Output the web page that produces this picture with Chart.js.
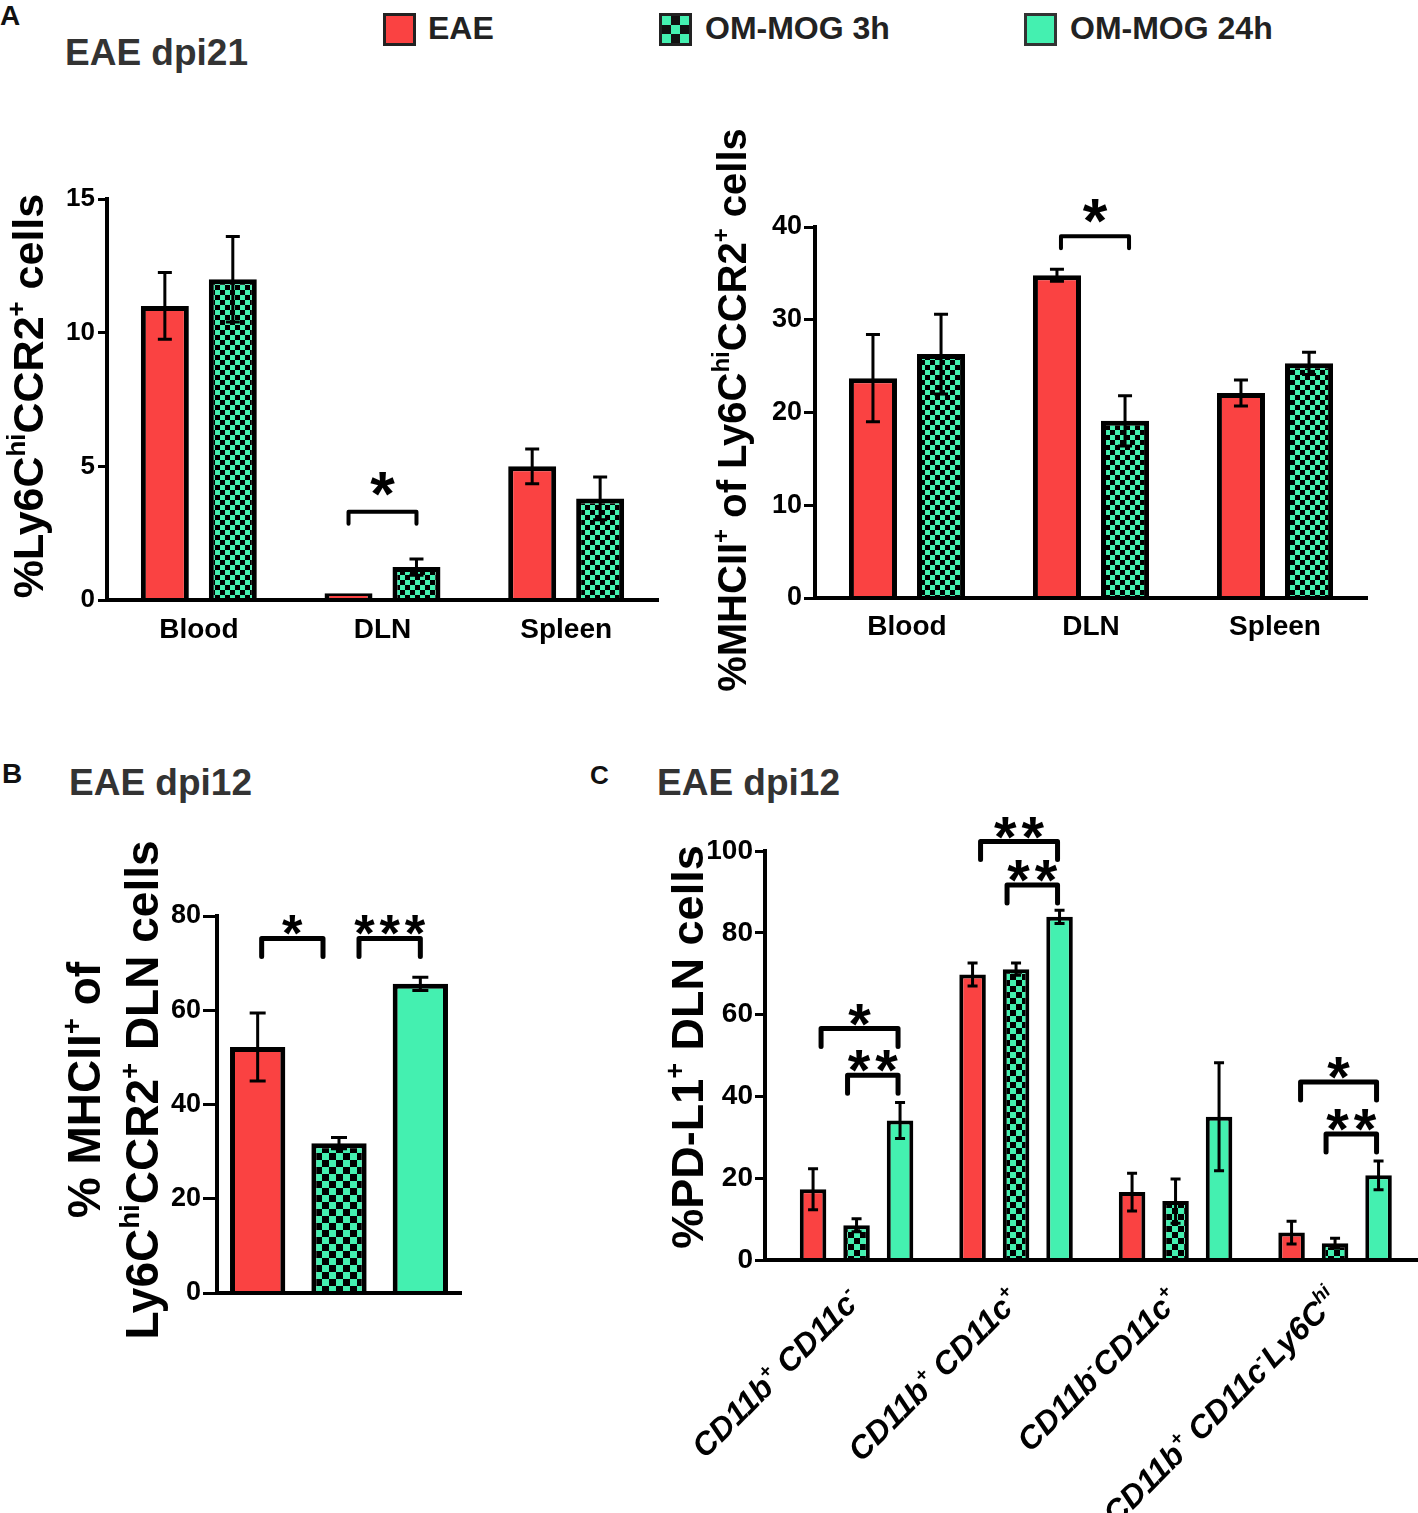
<!DOCTYPE html>
<html><head><meta charset="utf-8">
<script src="https://cdn.jsdelivr.net/npm/chart.js@4.4.1/dist/chart.umd.min.js"></script>
<style>
html,body{margin:0;padding:0;background:#fff;}
#fig{position:relative;width:1418px;height:1513px;overflow:hidden;font-family:"Liberation Sans",Arial,sans-serif;background:#fff;}
.t{position:absolute;white-space:nowrap;line-height:1;font-weight:bold;}
canvas{position:absolute;}
.sw{position:absolute;width:33px;height:33px;box-sizing:border-box;border:3px solid #222;}
</style></head><body>
<div id="fig">
  <div class="t" style="left:0;top:2px;font-size:28px;color:#111">A</div>
  <div class="t" style="left:65px;top:34px;font-size:37px;color:#333">EAE dpi21</div>
  <div class="sw" style="left:383px;top:13px;background:#fa4242"></div>
  <div class="t" style="left:428px;top:12px;font-size:32px;color:#222">EAE</div>
  <div class="sw" style="left:659px;top:13px;background:repeating-conic-gradient(#111 0 25%, #44f0b0 0 50%) 0 0/18px 18px"></div>
  <div class="t" style="left:705px;top:12px;font-size:32px;color:#222">OM-MOG 3h</div>
  <div class="sw" style="left:1024px;top:13px;background:#44f0b0;border-color:#333"></div>
  <div class="t" style="left:1070px;top:12px;font-size:32px;color:#222">OM-MOG 24h</div>

  <div class="t" style="left:2px;top:760px;font-size:28px;color:#111">B</div>
  <div class="t" style="left:69px;top:764px;font-size:37px;color:#333">EAE dpi12</div>
  <div class="t" style="left:590px;top:762px;font-size:26px;color:#111">C</div>
  <div class="t" style="left:657px;top:764px;font-size:37px;color:#333">EAE dpi12</div>

  <canvas id="cA1" width="680" height="600" style="left:0;top:100px"></canvas>
  <canvas id="cA2" width="738" height="600" style="left:680px;top:100px"></canvas>
  <canvas id="cB" width="480" height="640" style="left:0;top:740px"></canvas>
  <canvas id="cC" width="858" height="773" style="left:560px;top:740px"></canvas>
</div>
<script>
// ---------------- DATA ----------------
const seriesNames = ['EAE', 'OM-MOG 3h', 'OM-MOG 24h'];

// Panel A (dpi21), left: %Ly6Chi CCR2+ cells
const categoriesA = ['Blood', 'DLN', 'Spleen'];
const a1EAE = [11.0, 0.25, 5.0];
const a1EAEErr = [1.25, 0, 0.65];
const a1MOG3h = [12.0, 1.23, 3.8];
const a1MOG3hErr = [1.6, 0.3, 0.8];
const a1Ticks = [0, 5, 10, 15];
const a1Sig = [{from: [0, 1], to: [1, 1], level: 3.3, label: '*'}];

// Panel A (dpi21), right: %MHCII+ of Ly6Chi CCR2+ cells
const a2EAE = [23.7, 34.8, 22.1];
const a2EAEErr = [4.7, 0.65, 1.4];
const a2MOG3h = [26.3, 19.1, 25.3];
const a2MOG3hErr = [4.3, 2.7, 1.2];
const a2Ticks = [0, 10, 20, 30, 40];
const a2Sig = [{from: [0, 1], to: [1, 1], level: 39.0, label: '*'}];

// Panel B (dpi12)
const bValues = [52.2, 31.8, 65.6];
const bErr = [7.2, 1.2, 1.4];
const bTicks = [0, 20, 40, 60, 80];
const bSig = [
  {from: [0, 0], to: [0, 1], level: 75.2, label: '*'},
  {from: [0, 1], to: [0, 2], level: 75.2, label: '***'}
];

// Panel C (dpi12): %PD-L1+ DLN cells
const categoriesC = [
  [['CD11b', 0], ['+', 1], [' ', 0], ['CD11c', 0], ['-', 1]],
  [['CD11b', 0], ['+', 1], [' ', 0], ['CD11c', 0], ['+', 1]],
  [['CD11b', 0], ['-', 1], ['CD11c', 0], ['+', 1]],
  [['CD11b', 0], ['+', 1], [' ', 0], ['CD11c', 0], ['-', 1], ['Ly6C', 0], ['hi', 1]]
];
const cEAE = [17.3, 69.8, 16.6, 6.7];
const cEAEErr = [5.0, 2.8, 4.6, 2.8];
const cMOG3h = [8.5, 71.1, 14.4, 4.1];
const cMOG3hErr = [1.6, 1.5, 5.4, 1.2];
const cMOG24h = [34.1, 83.9, 35.0, 20.7];
const cMOG24hErr = [4.4, 1.6, 13.2, 3.5];
const cTicks = [0, 20, 40, 60, 80, 100];
const cSig = [
  {from: [0, 0], to: [2, 0], level: 56.6, label: '*'},
  {from: [1, 0], to: [2, 0], level: 45.2, label: '**'},
  {from: [0, 1], to: [2, 1], level: 102.3, label: '**'},
  {from: [1, 1], to: [2, 1], level: 91.7, label: '**'},
  {from: [0, 3], to: [2, 3], level: 43.5, label: '*'},
  {from: [1, 3], to: [2, 3], level: 30.8, label: '**'}
];

// Axis titles (rich text runs: [text, isSuperscript])
const titleA1 = [['%Ly6C', 0], ['hi', 1], ['CCR2', 0], ['+', 1], [' cells', 0]];
const titleA2 = [['%MHCII', 0], ['+', 1], [' of Ly6C', 0], ['hi', 1], ['CCR2', 0], ['+', 1], [' cells', 0]];
const titleB1 = [['% MHCII', 0], ['+', 1], [' of', 0]];
const titleB2 = [['Ly6C', 0], ['hi', 1], ['CCR2', 0], ['+', 1], [' DLN cells', 0]];
const titleC = [['%PD-L1', 0], ['+', 1], [' DLN cells', 0]];

// ---------------- STYLE / HELPERS ----------------
const RED = '#fa4242', GREEN = '#44f0b0', INK = '#000';
const FAM = '"Liberation Sans", Arial, sans-serif';
Chart.defaults.font.family = FAM;
Chart.defaults.font.weight = 'bold';
Chart.defaults.color = INK;

function checker(ctx, s) {
  const cv = document.createElement('canvas');
  cv.width = cv.height = s * 2;
  const g = cv.getContext('2d');
  g.fillStyle = GREEN; g.fillRect(0, 0, s * 2, s * 2);
  g.fillStyle = '#000'; g.fillRect(0, 0, s, s); g.fillRect(s, s, s, s);
  return ctx.createPattern(cv, 'repeat');
}

function drawRuns(ctx, runs, x, y, size, align, style) {
  const supSize = size * 0.6, rise = size * 0.42;
  const fontOf = r => `${style} bold ${r[1] ? supSize : size}px ${FAM}`;
  let total = 0;
  const widths = runs.map(r => { ctx.font = fontOf(r); const w = ctx.measureText(r[0]).width; total += w; return w; });
  let cx = align === 'center' ? x - total / 2 : align === 'right' ? x - total : x;
  ctx.fillStyle = INK; ctx.textBaseline = 'alphabetic'; ctx.textAlign = 'left';
  runs.forEach((r, i) => { ctx.font = fontOf(r); ctx.fillText(r[0], cx, r[1] ? y - rise : y); cx += widths[i]; });
}

function drawStars(ctx, label, cx, cy, h) {
  ctx.font = `bold 100px ${FAM}`;
  const m = ctx.measureText('*');
  const s = 100 * h / (m.actualBoundingBoxAscent + m.actualBoundingBoxDescent);
  ctx.font = `bold ${s}px ${FAM}`;
  const m2 = ctx.measureText('*');
  const w = m2.actualBoundingBoxLeft + m2.actualBoundingBoxRight;
  const pitch = w * 1.2;
  const base = cy + (m2.actualBoundingBoxAscent - m2.actualBoundingBoxDescent) / 2;
  ctx.fillStyle = INK; ctx.textAlign = 'center'; ctx.textBaseline = 'alphabetic';
  const n = label.length;
  for (let i = 0; i < n; i++) ctx.fillText(label[i], cx + (i - (n - 1) / 2) * pitch, base);
}

const errorBars = {
  id: 'errorBars',
  afterDatasetsDraw(chart, args, o) {
    const ctx = chart.ctx, ys = chart.scales.y;
    chart.data.datasets.forEach((ds, di) => {
      const meta = chart.getDatasetMeta(di);
      meta.data.forEach((bar, i) => {
        const raw = ds.data[i];
        const v = typeof raw === 'object' ? raw.y : raw;
        const e = ds.errors[i];
        if (!e) return;
        const top = ys.getPixelForValue(v + e), bot = ys.getPixelForValue(v - e);
        ctx.save();
        ctx.strokeStyle = INK; ctx.lineWidth = o.width;
        ctx.beginPath();
        ctx.moveTo(bar.x, top); ctx.lineTo(bar.x, bot);
        ctx.moveTo(bar.x - o.cap / 2, top); ctx.lineTo(bar.x + o.cap / 2, top);
        ctx.moveTo(bar.x - o.cap / 2, bot); ctx.lineTo(bar.x + o.cap / 2, bot);
        ctx.stroke();
        ctx.restore();
      });
    });
  }
};

const brackets = {
  id: 'brackets',
  afterDraw(chart, args, o) {
    const ctx = chart.ctx, ys = chart.scales.y;
    (o.items || []).forEach((b, k) => {
      const ins = (o.insets && o.insets[k]) || [0, 0];
      const x1 = chart.getDatasetMeta(b.from[0]).data[b.from[1]].x + ins[0];
      const x2 = chart.getDatasetMeta(b.to[0]).data[b.to[1]].x + ins[1];
      const yy = ys.getPixelForValue(b.level);
      ctx.save();
      ctx.strokeStyle = INK; ctx.lineWidth = o.lineWidth;
      ctx.lineJoin = 'round'; ctx.lineCap = 'round';
      ctx.beginPath();
      ctx.moveTo(x1, yy + o.leg); ctx.lineTo(x1, yy); ctx.lineTo(x2, yy); ctx.lineTo(x2, yy + o.leg);
      ctx.stroke();
      drawStars(ctx, b.label, (x1 + x2) / 2, yy - o.gap, o.starH);
      ctx.restore();
    });
  }
};

const yTitle = {
  id: 'yTitle',
  afterDraw(chart, args, o) {
    const ctx = chart.ctx;
    o.lines.forEach(line => {
      ctx.save();
      ctx.translate(line.x, line.y);
      ctx.rotate(-Math.PI / 2);
      drawRuns(ctx, line.runs, 0, 0, o.size, 'center', '');
      ctx.restore();
    });
  }
};

const richXLabels = {
  id: 'richXLabels',
  afterDraw(chart, args, o) {
    if (!o.labels) return;
    const ctx = chart.ctx, xs = chart.scales.x, area = chart.chartArea;
    o.labels.forEach((runs, i) => {
      ctx.save();
      ctx.translate(xs.getPixelForValue(i) + o.dx, area.bottom + o.dy);
      ctx.rotate(-Math.PI / 4);
      drawRuns(ctx, runs, 0, 0, o.size, 'right', 'italic');
      ctx.restore();
    });
  }
};

function yScale(ticks, fontSize, yWidth, tickLen, pad) {
  return {
    min: ticks[0], max: ticks[ticks.length - 1],
    afterBuildTicks: s => { s.ticks = ticks.map(v => ({value: v})); },
    afterFit: s => { s.width = yWidth; },
    ticks: {font: {size: fontSize, weight: 'bold'}, color: INK, padding: pad},
    grid: {display: true, drawOnChartArea: false, drawTicks: true, tickLength: tickLen, color: INK, lineWidth: 3},
    border: {display: true, color: INK, width: 4, z: 1}
  };
}

const common = (pad) => ({
  responsive: false, animation: false,
  layout: {padding: pad},
  events: []
});

// ---------------- PANEL A left ----------------
const ctxA1 = document.getElementById('cA1').getContext('2d');
new Chart(ctxA1, {
  type: 'bar',
  data: {
    labels: categoriesA,
    datasets: [
      {label: seriesNames[0], data: a1EAE, errors: a1EAEErr, backgroundColor: RED},
      {label: seriesNames[1], data: a1MOG3h, errors: a1MOG3hErr, backgroundColor: checker(ctxA1, 5)}
    ].map(d => Object.assign(d, {borderColor: INK, borderWidth: 5, categoryPercentage: 0.74, barPercentage: 0.706}))
  },
  options: Object.assign(common({left: 0, right: 22, top: 99, bottom: 40}), {
    plugins: {
      legend: {display: false}, tooltip: {enabled: false},
      errorBars: {width: 3, cap: 14},
      brackets: {items: a1Sig, lineWidth: 4, leg: 12, gap: 28, starH: 24},
      yTitle: {size: 43, lines: [{runs: titleA1, x: 43, y: 296}]},
      richXLabels: {}
    },
    scales: {
      x: {
        afterFit: s => { s.height = 60; },
        ticks: {font: {size: 28, weight: 'bold'}, color: INK, padding: 13},
        grid: {display: false, drawTicks: false},
        border: {display: true, color: INK, width: 4, z: 1}
      },
      y: yScale(a1Ticks, 26, 107, 9, 3)
    }
  }),
  plugins: [errorBars, brackets, yTitle, richXLabels]
});

// ---------------- PANEL A right ----------------
const ctxA2 = document.getElementById('cA2').getContext('2d');
new Chart(ctxA2, {
  type: 'bar',
  data: {
    labels: categoriesA,
    datasets: [
      {label: seriesNames[0], data: a2EAE, errors: a2EAEErr, backgroundColor: RED},
      {label: seriesNames[1], data: a2MOG3h, errors: a2MOG3hErr, backgroundColor: checker(ctxA2, 5)}
    ].map(d => Object.assign(d, {borderColor: INK, borderWidth: 5, categoryPercentage: 0.74, barPercentage: 0.706}))
  },
  options: Object.assign(common({left: 0, right: 51, top: 127, bottom: 42}), {
    plugins: {
      legend: {display: false}, tooltip: {enabled: false},
      errorBars: {width: 3, cap: 14},
      brackets: {items: a2Sig, lineWidth: 4, leg: 12, gap: 25, starH: 24, insets: [[4, 4]]},
      yTitle: {size: 40, lines: [{runs: titleA2, x: 66, y: 310}]},
      richXLabels: {}
    },
    scales: {
      x: {
        afterFit: s => { s.height = 60; },
        ticks: {font: {size: 28, weight: 'bold'}, color: INK, padding: 12},
        grid: {display: false, drawTicks: false},
        border: {display: true, color: INK, width: 4, z: 1}
      },
      y: yScale(a2Ticks, 27, 135, 11, 2)
    }
  }),
  plugins: [errorBars, brackets, yTitle, richXLabels]
});

// ---------------- PANEL B ----------------
const ctxB = document.getElementById('cB').getContext('2d');
new Chart(ctxB, {
  type: 'bar',
  data: {
    labels: seriesNames,
    datasets: [{
      label: 'dpi12', data: bValues, errors: bErr,
      backgroundColor: [RED, checker(ctxB, 7), GREEN],
      borderColor: INK, borderWidth: 5, categoryPercentage: 1, barPercentage: 0.68
    }]
  },
  options: Object.assign(common({left: 0, right: 19, top: 176, bottom: 87}), {
    plugins: {
      legend: {display: false}, tooltip: {enabled: false},
      errorBars: {width: 3, cap: 16},
      brackets: {items: bSig, lineWidth: 5, leg: 18, gap: 14, starH: 20, insets: [[4, -16], [20, 0]]},
      yTitle: {size: 46, lines: [{runs: titleB1, x: 100, y: 350}, {runs: titleB2, x: 158, y: 350}]},
      richXLabels: {}
    },
    scales: {
      x: {
        afterFit: s => { s.height = 0; },
        ticks: {display: false},
        grid: {display: false, drawTicks: false},
        border: {display: true, color: INK, width: 4, z: 1}
      },
      y: yScale(bTicks, 27, 217, 14, 2)
    }
  }),
  plugins: [errorBars, brackets, yTitle, richXLabels]
});

// ---------------- PANEL C ----------------
const ctxC = document.getElementById('cC').getContext('2d');
const toXY = arr => arr.map((v, i) => ({x: i, y: v}));
new Chart(ctxC, {
  type: 'bar',
  data: {
    datasets: [
      {label: seriesNames[0], data: toXY(cEAE), errors: cEAEErr, backgroundColor: RED},
      {label: seriesNames[1], data: toXY(cMOG3h), errors: cMOG3hErr, backgroundColor: checker(ctxC, 6)},
      {label: seriesNames[2], data: toXY(cMOG24h), errors: cMOG24hErr, backgroundColor: GREEN}
    ].map(d => Object.assign(d, {borderColor: INK, borderWidth: 4, categoryPercentage: 0.818, barPercentage: 0.61}))
  },
  options: Object.assign(common({left: 0, right: 0, top: 111, bottom: 253}), {
    plugins: {
      legend: {display: false}, tooltip: {enabled: false},
      errorBars: {width: 3, cap: 10},
      brackets: {items: cSig, lineWidth: 5, leg: 18, gap: 14, starH: 22,
                 insets: [[8, -2], [-9, -2], [8, -2], [-9, -2], [9, -2], [-9, -2]]},
      yTitle: {size: 45, lines: [{runs: titleC, x: 143, y: 307}]},
      richXLabels: {labels: categoriesC, dx: 6, dy: 42, size: 32}
    },
    scales: {
      x: {
        type: 'linear', offset: false, min: -0.574, max: 3.52,
        afterBuildTicks: s => { s.ticks = categoriesC.map((_, i) => ({value: i})); },
        afterFit: s => { s.height = 0; },
        ticks: {display: false},
        grid: {display: false, drawTicks: false, offset: false},
        border: {display: true, color: INK, width: 4, z: 1}
      },
      y: yScale(cTicks, 28, 205, 10, 2)
    }
  }),
  plugins: [errorBars, brackets, yTitle, richXLabels]
});
</script>
</body></html>
